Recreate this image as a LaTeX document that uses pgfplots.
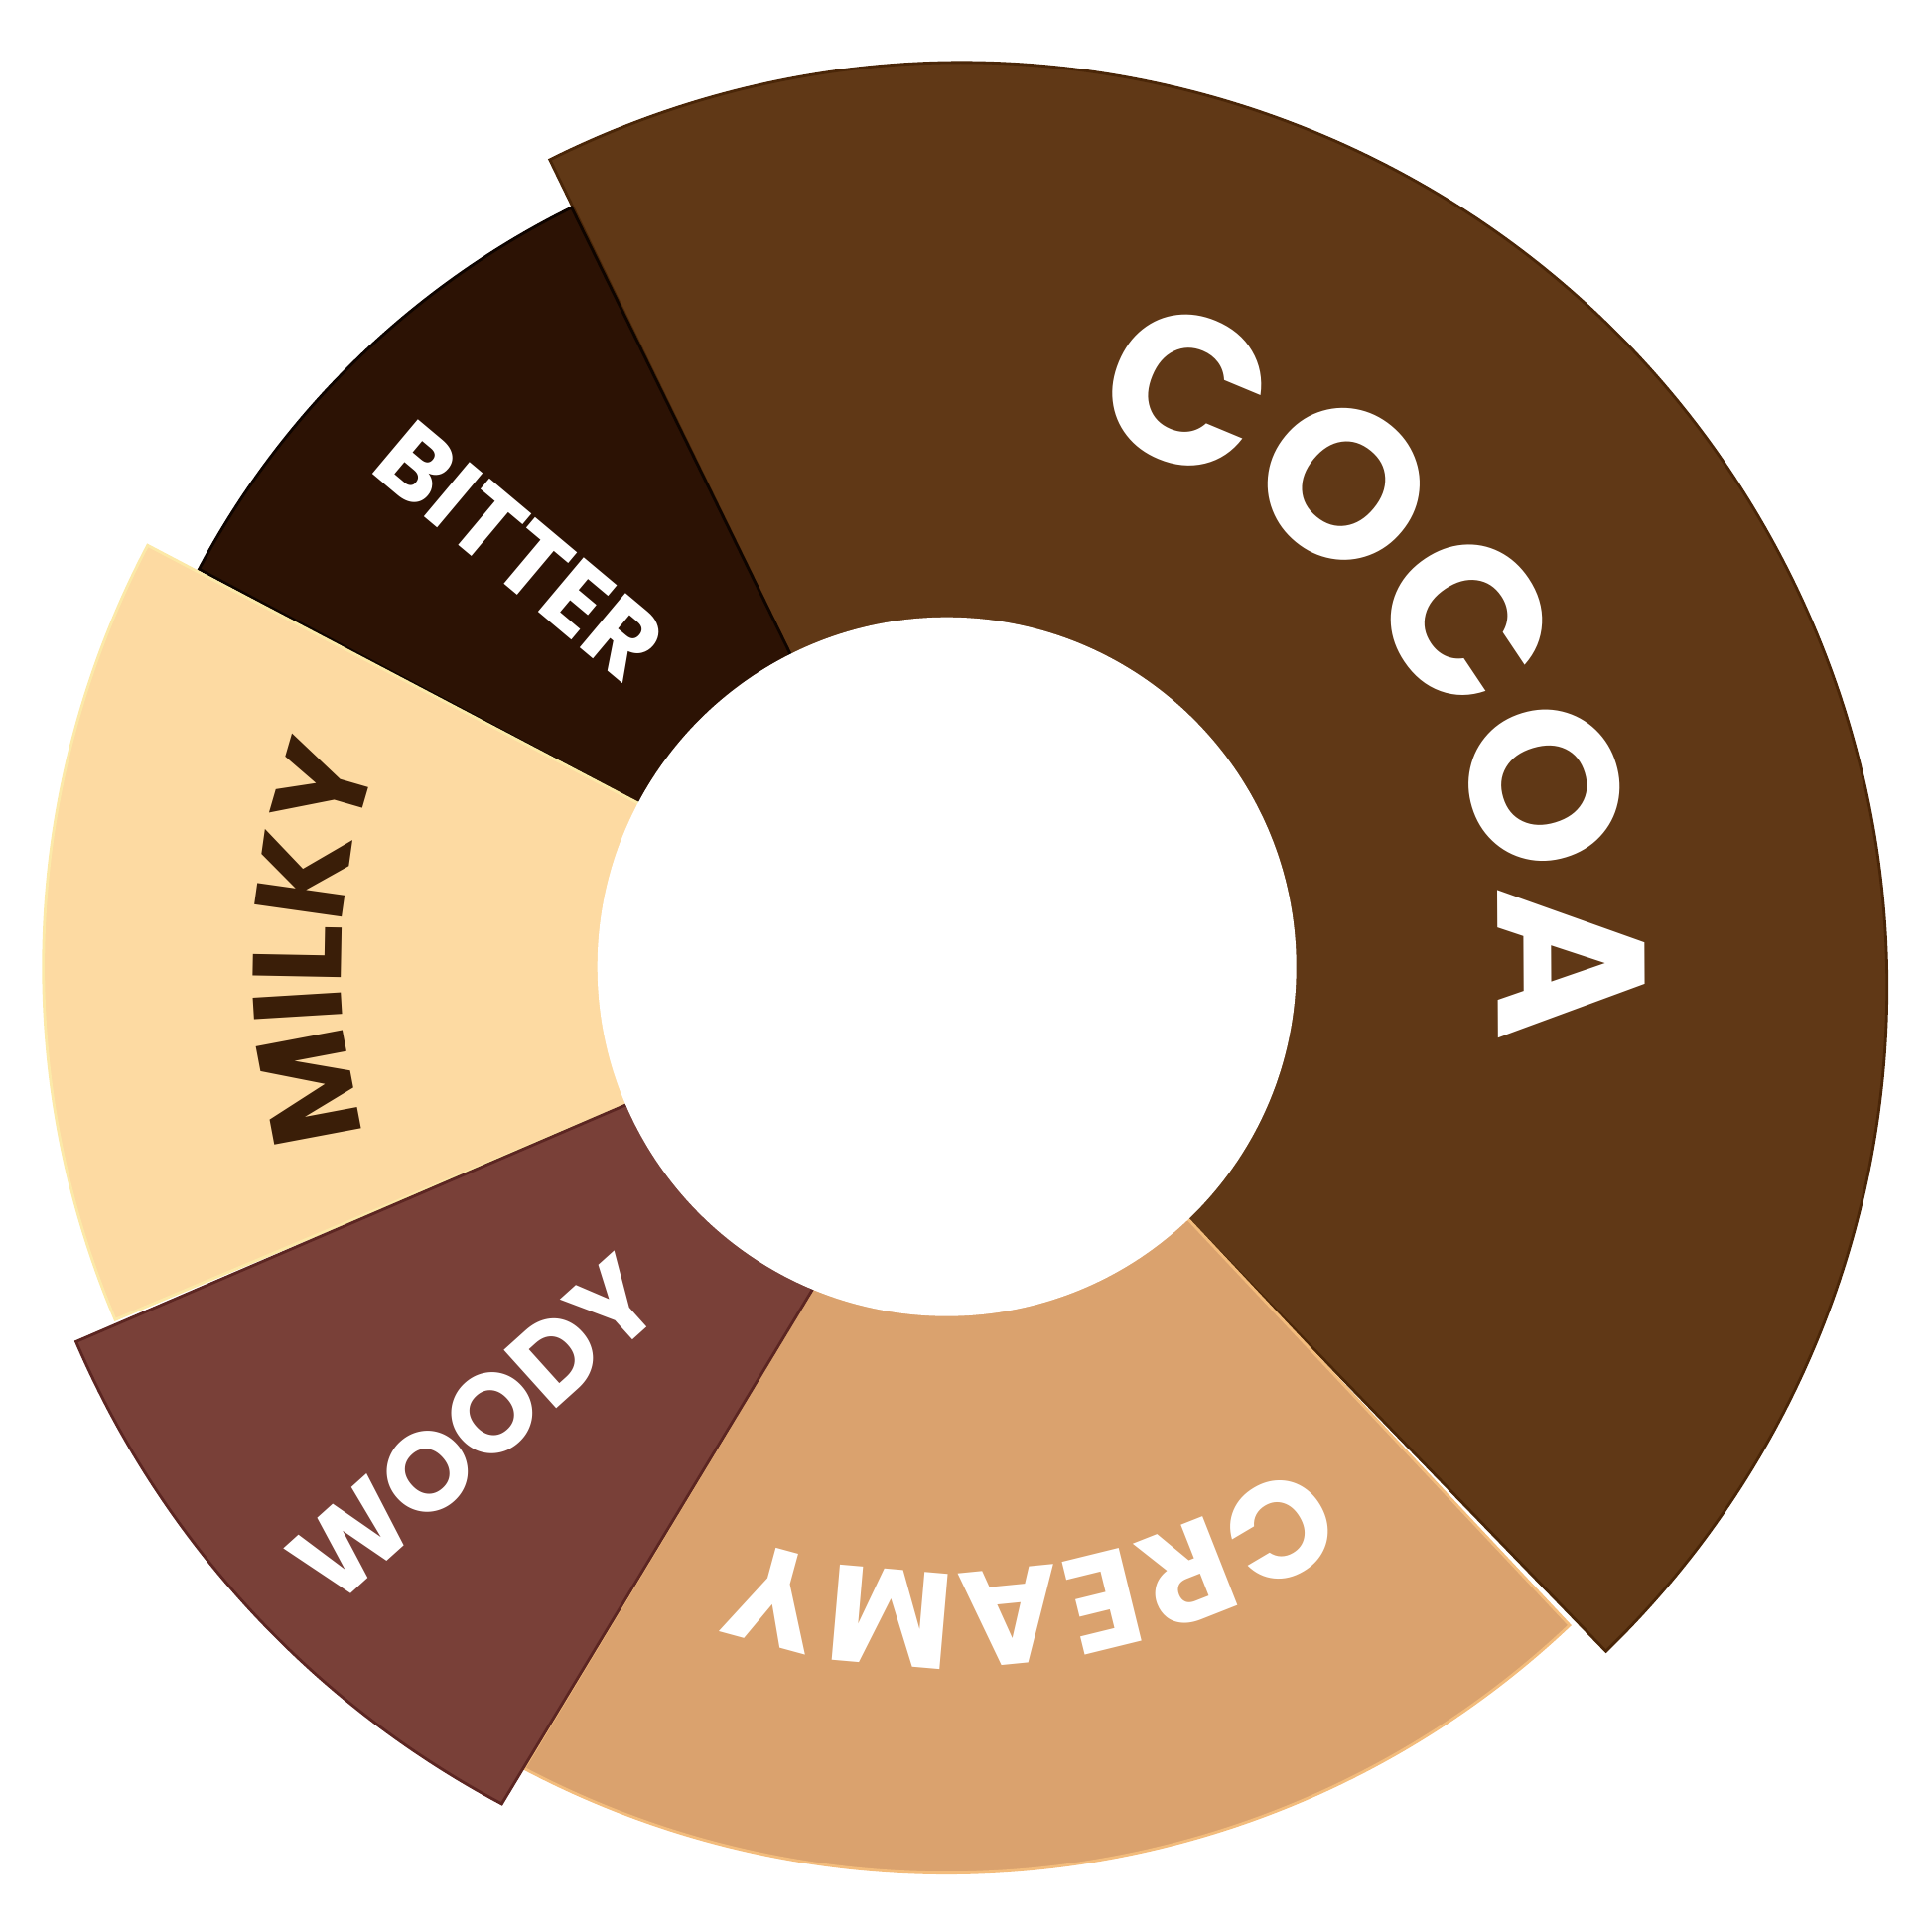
\documentclass[border=0pt]{standalone}
\usepackage{pgfplots}
\pgfplotsset{compat=1.18}
\usepackage{fontspec}
\setmainfont{Poppins}
\usetikzlibrary{decorations.text}

\definecolor{cocoa}{HTML}{603816}
\definecolor{cocoaedge}{HTML}{4A2608}
\definecolor{bitter}{HTML}{2C1204}
\definecolor{bitteredge}{HTML}{0E0400}
\definecolor{milky}{HTML}{FDDAA2}
\definecolor{milkyedge}{HTML}{FCE9A8}
\definecolor{woody}{HTML}{794038}
\definecolor{woodyedge}{HTML}{5C2622}
\definecolor{creamy}{HTML}{DAA26E}
\definecolor{creamyedge}{HTML}{F3BC7C}
\definecolor{milkytext}{HTML}{3A1E08}

% one ring segment: fill, edge, inner start/end angle, arc centre x/y,
% outer radius, outer start/end angle (all in axis units, centre = 0,0)
\newcommand{\seg}[9]{%
  \filldraw[fill=#1, draw=#2, line width=0.8pt, shift={(axis cs:0,0)}]
    (#3:3.52cm) -- ([shift={(#5cm,#6cm)}]#8:#7cm)
    arc[start angle=#8, end angle=#9, radius=#7cm] -- (#4:3.52cm) -- cycle;}

\begin{document}
\begin{tikzpicture}
\begin{axis}[
  x=1cm, y=1cm,
  xmin=-9.537, xmax=9.923,
  ymin=-9.723, ymax=9.737,
  hide axis, clip=false,
]
% name     fill    edge        in0    in1    cx     cy      R      out0   out1
\seg{cocoa}{cocoaedge}{116.6}{313.7}{0.157}{-0.207}{9.314}{116.5}{-45.9}
\seg{bitter}{bitteredge}{152.1}{116.6}{0}{0}{8.53}{152.0}{116.3}
\seg{milky}{milkyedge}{203.3}{152.1}{0}{0}{9.10}{203.0}{152.2}
\seg{creamy}{creamyedge}{313.7}{247.4}{0}{0}{9.13}{313.4}{242.2}
\seg{woody}{woodyedge}{247.4}{203.3}{0}{0}{9.55}{242.0}{203.3}

\fill[white] (axis cs:0,0) circle[radius=3.52cm];

\path[shift={(axis cs:0,0)}, decorate, decoration={text along path,
    text align=center, text color=white,
    text={|\fontsize{60}{60}\selectfont\bfseries|COCOA}}]
  (94:5.55cm) arc[start angle=94, end angle=-26, radius=5.55cm];
\path[shift={(axis cs:0,0)}, decorate, decoration={text along path,
    text align=center, text color=milkytext,
    text={|\fontsize{36}{36}\selectfont\bfseries|MILKY}}]
  (218:6.1cm) arc[start angle=218, end angle=138, radius=6.1cm];
\path[shift={(axis cs:0,0)}, decorate, decoration={text along path,
    text align=center, text color=white,
    text={|\fontsize{39}{39}\selectfont\bfseries|CREAMY}}]
  (323:6.1cm) arc[start angle=323, end angle=233, radius=6.1cm];
\node[rotate=42, text=white, inner sep=0pt,
  font=\fontsize{32}{32}\selectfont\bfseries] at (axis cs:-4.76,-4.66) {WOODY};
\node[rotate=-40, text=white, inner sep=0pt,
  font=\fontsize{29}{29}\selectfont\bfseries] at (axis cs:-4.30,4.19) {BITTER};
\end{axis}
\pgfresetboundingbox
\path (current axis.south west) rectangle (current axis.north east);
\end{tikzpicture}
\end{document}
